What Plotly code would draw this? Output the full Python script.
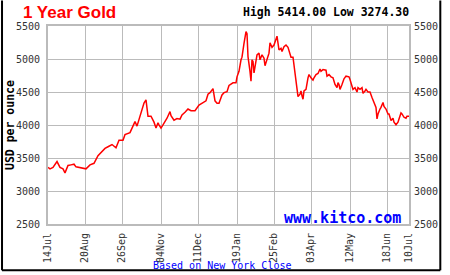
import plotly.graph_objects as go

# ---- data ----
dates = [
    "2025-07-14", "2025-07-16", "2025-07-19", "2025-07-23", "2025-07-26", "2025-07-29", "2025-07-31",
    "2025-08-03", "2025-08-06", "2025-08-09", "2025-08-11", "2025-08-16", "2025-08-21", "2025-08-25",
    "2025-08-29", "2025-09-02", "2025-09-06", "2025-09-09", "2025-09-12", "2025-09-16", "2025-09-20",
    "2025-09-23", "2025-09-27", "2025-09-29", "2025-10-04", "2025-10-07", "2025-10-09", "2025-10-11",
    "2025-10-14", "2025-10-17", "2025-10-18", "2025-10-20", "2025-10-21", "2025-10-22", "2025-10-25",
    "2025-10-28", "2025-10-30", "2025-11-01", "2025-11-02", "2025-11-04", "2025-11-06", "2025-11-10",
    "2025-11-13", "2025-11-14", "2025-11-17", "2025-11-20", "2025-11-23", "2025-11-25", "2025-11-28",
    "2025-12-01", "2025-12-04", "2025-12-08", "2025-12-12", "2025-12-16", "2025-12-19", "2025-12-21",
    "2025-12-23", "2025-12-26", "2025-12-28", "2025-12-30", "2026-01-01", "2026-01-04", "2026-01-06",
    "2026-01-09", "2026-01-11", "2026-01-15", "2026-01-18", "2026-01-19", "2026-01-21", "2026-01-23",
    "2026-01-24", "2026-01-26", "2026-01-28", "2026-01-29", "2026-01-30", "2026-02-01", "2026-02-02",
    "2026-02-03", "2026-02-04", "2026-02-05", "2026-02-06", "2026-02-08", "2026-02-10", "2026-02-11",
    "2026-02-13", "2026-02-15", "2026-02-16", "2026-02-18", "2026-02-20", "2026-02-21", "2026-02-23",
    "2026-02-25", "2026-02-27", "2026-02-28", "2026-03-01", "2026-03-02", "2026-03-04", "2026-03-05",
    "2026-03-07", "2026-03-09", "2026-03-11", "2026-03-13", "2026-03-14", "2026-03-16", "2026-03-18",
    "2026-03-19", "2026-03-20", "2026-03-21", "2026-03-23", "2026-03-24", "2026-03-25", "2026-03-26",
    "2026-03-27", "2026-03-29", "2026-03-31", "2026-04-01", "2026-04-03", "2026-04-05", "2026-04-06",
    "2026-04-08", "2026-04-10", "2026-04-12", "2026-04-13", "2026-04-15", "2026-04-18", "2026-04-19",
    "2026-04-21", "2026-04-23", "2026-04-25", "2026-04-27", "2026-04-29", "2026-04-30", "2026-05-01",
    "2026-05-02", "2026-05-04", "2026-05-06", "2026-05-08", "2026-05-11", "2026-05-12", "2026-05-14",
    "2026-05-15", "2026-05-17", "2026-05-19", "2026-05-20", "2026-05-22", "2026-05-24", "2026-05-25",
    "2026-05-27", "2026-05-28", "2026-05-30", "2026-06-01", "2026-06-03", "2026-06-05", "2026-06-07",
    "2026-06-08", "2026-06-09", "2026-06-11", "2026-06-12", "2026-06-14", "2026-06-15", "2026-06-17",
    "2026-06-19", "2026-06-20", "2026-06-22", "2026-06-24", "2026-06-25", "2026-06-27", "2026-06-29",
    "2026-06-30", "2026-07-02", "2026-07-03", "2026-07-05", "2026-07-07", "2026-07-08", "2026-07-10",
]
prices = [
    3357, 3336, 3357, 3446, 3357, 3336, 3274.3,
    3386, 3396, 3406, 3366, 3347, 3336, 3396,
    3420, 3535, 3595, 3645, 3670, 3704, 3655,
    3769, 3769, 3854, 3884, 3993, 4052, 3983,
    4142, 4316, 4331, 4381, 4251, 4133, 4133,
    4043, 3954, 4033, 4003, 3954, 4003, 4103,
    4202, 4142, 4073, 4097, 4088, 4152, 4192,
    4242, 4217, 4217, 4302, 4341, 4366, 4466,
    4490, 4551, 4366, 4331, 4331, 4455, 4490,
    4505, 4600, 4640, 4640, 4730, 4814, 4988,
    5028, 5237, 5414, 5385, 5037, 4813, 4664,
    4988, 4963, 4790, 4888, 5063, 5088, 4988,
    5063, 5013, 4898, 5013, 5088, 5246, 5177,
    5212, 5287, 5346, 5242, 5137, 5162, 5113,
    5187, 5212, 5177, 5088, 5028, 5028, 4790,
    4690, 4540, 4431, 4466, 4515, 4441, 4391,
    4515, 4540, 4715, 4764, 4715, 4680, 4715,
    4764, 4780, 4849, 4814, 4839, 4830, 4740,
    4764, 4730, 4715, 4615, 4565, 4640, 4615,
    4540, 4615, 4700, 4740, 4730, 4690, 4600,
    4540, 4565, 4500, 4565, 4540, 4565, 4480,
    4515, 4540, 4500, 4500, 4416, 4341, 4267,
    4092, 4167, 4242, 4267, 4341, 4282, 4242,
    4167, 4167, 4068, 4103, 4043, 4003, 4043,
    4092, 4182, 4167, 4117, 4103, 4133, 4133,
]
tick_dates = ["2025-07-14", "2025-08-20", "2025-09-26", "2025-11-04", "2025-12-11",
              "2026-01-19", "2026-02-25", "2026-04-03", "2026-05-12", "2026-06-18", "2026-07-10"]
tick_labels = ["14Jul", "20Aug", "26Sep", "04Nov", "11Dec", "19Jan", "25Feb", "03Apr", "12May", "18Jun", "10Jul"]
y_ticks = [2500, 3000, 3500, 4000, 4500, 5000, 5500]
high_val = 5414.00
low_val = 3274.30

# ---- figure ----
GRID = "#bbbbbb"
TICKFONT = dict(family="DejaVu Sans Mono", size=10, color="#333333")

fig = go.Figure()
fig.add_trace(go.Scatter(x=dates, y=prices, mode="lines",
                         line=dict(color="#ff0000", width=1.5), hoverinfo="skip",
                         showlegend=False))
fig.add_trace(go.Scatter(x=dates, y=prices, mode="lines", yaxis="y2", opacity=0,
                         line=dict(color="#ff0000", width=1), hoverinfo="skip",
                         showlegend=False))

yaxis_common = dict(range=[y_ticks[0], y_ticks[-1]], tickvals=y_ticks,
                    ticktext=[str(v) for v in y_ticks], tickfont=TICKFONT,
                    zeroline=False, ticks="", ticklabelstandoff=4)

fig.update_layout(
    width=450, height=275,
    margin=dict(l=48, r=33, t=26, b=48, pad=0),
    paper_bgcolor="white", plot_bgcolor="white",
    showlegend=False,
    xaxis=dict(type="date", range=[dates[0], dates[-1]], tickvals=tick_dates, ticktext=tick_labels,
               tickangle=-90, tickfont=TICKFONT, showgrid=True, gridcolor=GRID, gridwidth=1,
               showline=True, linecolor=GRID, linewidth=2, mirror=True, zeroline=False,
               ticks="", ticklabelstandoff=3),
    yaxis=dict(**yaxis_common, showgrid=True, gridcolor=GRID, gridwidth=1,
               showline=True, linecolor=GRID, linewidth=2, mirror=True),
    yaxis2=dict(**yaxis_common, overlaying="y", side="right", showgrid=False, showline=False),
)

# coordinate helpers for annotations (plot area: x 48..417, y 26..227 px)
def px(xp):
    return (xp - 48) / 369.0

def py(yp):
    return (227 - yp) / 201.0

annots = [
    dict(text="<b>1 Year Gold</b>", x=px(20), y=py(12.5), xanchor="left", yanchor="middle",
         font=dict(family="Liberation Sans", size=17, color="#ff0000")),
    dict(text="<b>High %.2f Low %.2f</b>" % (high_val, low_val), x=px(419), y=py(11.5),
         xanchor="right", yanchor="middle",
         font=dict(family="DejaVu Sans Mono", size=11.5, color="#000000")),
    dict(text="<b>USD per ounce</b>", x=px(9), y=py(126.7), xanchor="center", yanchor="middle",
         textangle=-90, font=dict(family="DejaVu Sans Mono", size=11.5, color="#000000")),
    dict(text="<b>www.kitco.com</b>", x=px(411), y=py(221), xanchor="right", yanchor="middle",
         font=dict(family="DejaVu Sans Mono", size=15, color="#0000ff")),
    dict(text="Based on New York Close", x=px(226.2), y=py(269), xanchor="center", yanchor="middle",
         font=dict(family="DejaVu Sans Mono", size=10, color="#0000ff")),
]
for a in annots:
    fig.add_annotation(xref="paper", yref="paper", showarrow=False, **a)

# outer black frame (left, right, bottom)
L, R, B, T = px(1), px(449), py(274), py(0)
for (x0, y0, x1, y1) in [(L, B, R, B), (L, B, L, T), (R, B, R, T)]:
    fig.add_shape(type="line", xref="paper", yref="paper", x0=x0, y0=y0, x1=x1, y1=y1,
                  line=dict(color="black", width=2))

fig.write_html("out.html")
